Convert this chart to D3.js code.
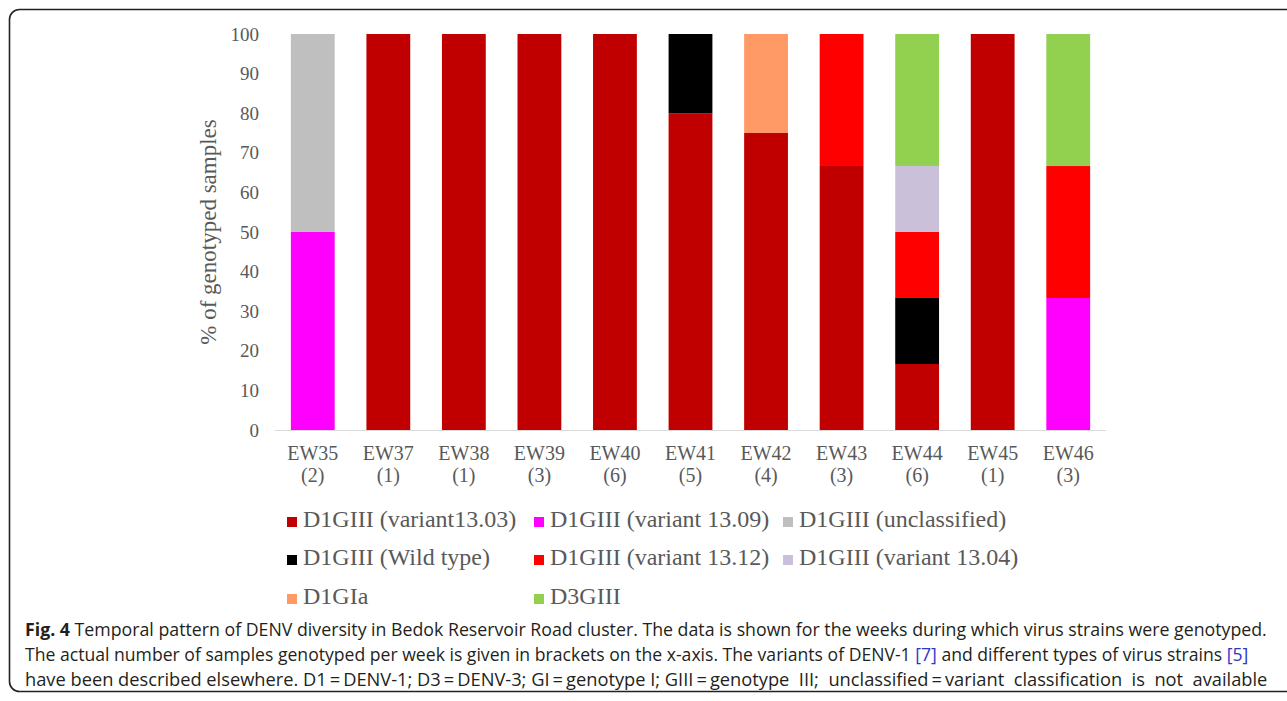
<!DOCTYPE html>
<html>
<head>
<meta charset="utf-8">
<script src="https://cdn.jsdelivr.net/npm/d3@7"></script>
<style>
  body { margin: 0; background: #fff; }
</style>
</head>
<body>
<div id="main"></div>
<script>
// DATA

// Weeks during which strains were genotyped, and sample counts (x-axis, second line)
var weeks = ['EW35', 'EW37', 'EW38', 'EW39', 'EW40', 'EW41', 'EW42', 'EW43', 'EW44', 'EW45', 'EW46']
var sample_counts = ['(2)', '(1)', '(1)', '(3)', '(6)', '(5)', '(4)', '(3)', '(6)', '(1)', '(3)']

// % of genotyped samples per genotype (stack order = legend order, bottom to top)
var variant_13_03 = [0, 100, 100, 100, 100, 80, 75, 66.67, 16.67, 100, 0]
var variant_13_09 = [50, 0, 0, 0, 0, 0, 0, 0, 0, 0, 33.33]
var unclassified  = [50, 0, 0, 0, 0, 0, 0, 0, 0, 0, 0]
var wild_type     = [0, 0, 0, 0, 0, 20, 0, 0, 16.67, 0, 0]
var variant_13_12 = [0, 0, 0, 0, 0, 0, 0, 33.33, 16.67, 0, 33.33]
var variant_13_04 = [0, 0, 0, 0, 0, 0, 0, 0, 16.67, 0, 0]
var d1gia         = [0, 0, 0, 0, 0, 0, 25, 0, 0, 0, 0]
var d3giii        = [0, 0, 0, 0, 0, 0, 0, 0, 33.33, 0, 33.33]

var series_names = ['D1GIII (variant13.03)', 'D1GIII (variant 13.09)', 'D1GIII (unclassified)',
  'D1GIII (Wild type)', 'D1GIII (variant 13.12)', 'D1GIII (variant 13.04)', 'D1GIa', 'D3GIII']
var series_values = [variant_13_03, variant_13_09, unclassified, wild_type,
  variant_13_12, variant_13_04, d1gia, d3giii]
var series_colors = ['#c00000', '#ff00ff', '#bfbfbf', '#000000', '#ff0000', '#cbc0da', '#ff9966', '#92d050']

var y_ticks = [0, 10, 20, 30, 40, 50, 60, 70, 80, 90, 100]

// Build table rows for d3.stack: one row per week
var rows = weeks.map(function (w, i) {
  var row = {week: w}
  series_names.forEach(function (name, k) { row[name] = series_values[k][i] })
  return row
})

// LAYOUT
var width = 1287
var height = 701
var plot = {left: 275, right: 1106, top: 34, bottom: 430}
var serif = '"Liberation Serif", "Times New Roman", serif'
var grey_text = '#595959'

var svg = d3.select('#main').append('svg')
  .attr('width', width)
  .attr('height', height)
  .style('display', 'block')

// Rounded frame around the figure (cut by the right edge)
svg.append('rect')
  .attr('x', 9.5).attr('y', 9.5)
  .attr('width', 1300).attr('height', 682)
  .attr('rx', 10).attr('ry', 10)
  .attr('fill', 'none')
  .attr('stroke', '#222')
  .attr('stroke-width', 1.6)

var x = d3.scaleBand()
  .domain(weeks)
  .range([plot.left, plot.right])
  .paddingInner(0.42)
  .paddingOuter(0.21)

var y = d3.scaleLinear()
  .domain([0, 100])
  .range([plot.bottom, plot.top])

// Stacked bars
var stacked = d3.stack().keys(series_names)(rows)

svg.append('g').selectAll('g')
  .data(stacked)
  .join('g')
    .attr('fill', (d, k) => series_colors[k])
  .selectAll('rect')
  .data(d => d.filter(s => s[1] - s[0] > 0))
  .join('rect')
    .attr('x', d => x(d.data.week))
    .attr('y', d => y(d[1]))
    .attr('width', x.bandwidth())
    .attr('height', d => y(d[0]) - y(d[1]))

// Y axis (labels only, no line)
var yAxis = svg.append('g')
  .attr('transform', `translate(${plot.left - 16},0)`)
  .call(d3.axisLeft(y).tickValues(y_ticks).tickSize(0).tickPadding(0))
yAxis.select('.domain').remove()
yAxis.selectAll('text')
  .attr('fill', grey_text)
  .style('font-family', serif)
  .style('font-size', '19px')

// X axis line
svg.append('line')
  .attr('x1', plot.left).attr('x2', plot.right)
  .attr('y1', plot.bottom + 0.5).attr('y2', plot.bottom + 0.5)
  .attr('stroke', '#d9d9d9')
  .attr('stroke-width', 1)

// X labels on two lines
var xlab = svg.append('g').selectAll('text')
  .data(weeks)
  .join('text')
    .attr('x', d => x(d) + x.bandwidth() / 2)
    .attr('fill', grey_text)
    .style('font-family', serif)
    .style('font-size', '20px')
    .style('text-anchor', 'middle')
xlab.append('tspan').attr('y', 460).text(d => d)
xlab.append('tspan')
  .attr('x', d => x(d) + x.bandwidth() / 2)
  .attr('y', 482)
  .text((d, i) => sample_counts[i])

// Y title
svg.append('text')
  .attr('transform', `translate(216,${(plot.top + plot.bottom) / 2}) rotate(-90)`)
  .attr('fill', grey_text)
  .style('font-family', serif)
  .style('font-size', '23px')
  .style('text-anchor', 'middle')
  .text('% of genotyped samples')

// Legend: 3 columns
var legend_cols = [287, 534, 783]
var legend_rows = [527, 565, 604]
var legend = svg.append('g').selectAll('g')
  .data(series_names)
  .join('g')
    .attr('transform', (d, i) => `translate(${legend_cols[i % 3]},${legend_rows[Math.floor(i / 3)]})`)
legend.append('rect')
  .attr('x', 0).attr('y', -10)
  .attr('width', 10).attr('height', 10)
  .attr('fill', (d, i) => series_colors[i])
legend.append('text')
  .attr('x', 16).attr('y', 0)
  .attr('fill', grey_text)
  .style('font-family', serif)
  .style('font-size', '24px')
  .text(d => d)

// CAPTION
var sans = '"Open Sans", "Noto Sans", sans-serif'
var caption = [
  {y: 636, len: 1243, parts: [
    {t: 'Fig. 4', bold: true},
    {t: ' Temporal pattern of DENV diversity in Bedok Reservoir Road cluster. The data is shown for the weeks during which virus strains were genotyped.'}]},
  {y: 661, len: 1224, parts: [
    {t: 'The actual number of samples genotyped per week is given in brackets on the x-axis. The variants of DENV-1 '},
    {t: '[7]', link: true},
    {t: ' and different types of virus strains '},
    {t: '[5]', link: true}]},
  {y: 686, len: 1243, parts: [
    {t: 'have been described elsewhere. D1\u2009=\u2009DENV-1; D3\u2009=\u2009DENV-3; GI\u2009=\u2009genotype I; GIII\u2009=\u2009genotype  III;  unclassified\u2009=\u2009variant  classification  is  not  available'}]}
]

// Each line is drawn at its natural width, then squeezed horizontally to the printed width
var cap = svg.append('g').selectAll('text')
  .data(caption)
  .join('text')
    .attr('x', 0)
    .attr('y', 0)
    .attr('fill', '#231f20')
    .style('font-family', sans)
    .style('font-size', '18px')
    .style('white-space', 'pre')
cap.selectAll('tspan')
  .data(d => d.parts)
  .join('tspan')
    .style('font-weight', d => d.bold ? 'bold' : 'normal')
    .attr('fill', d => d.link ? '#2a36c8' : null)
    .text(d => d.t)
cap.attr('transform', function (d) {
  var natural = this.getComputedTextLength()
  return `translate(25,${d.y}) scale(${d.len / natural},1)`
})
</script>
</body>
</html>
